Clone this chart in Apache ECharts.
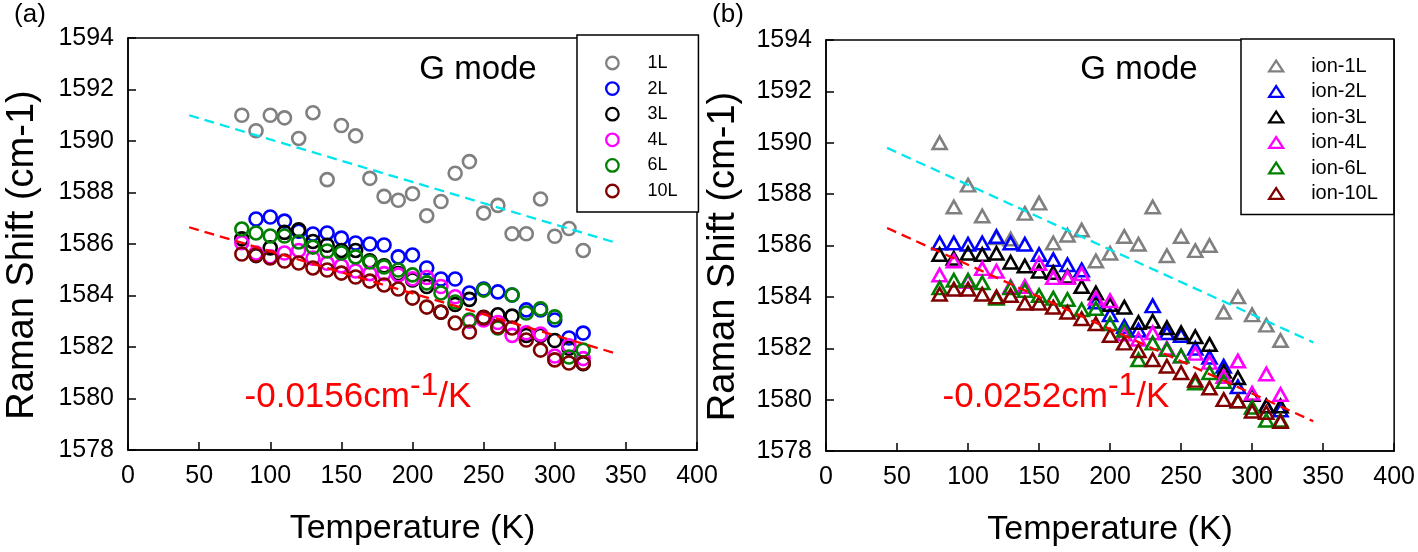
<!DOCTYPE html>
<html><head><meta charset="utf-8">
<script src="https://cdn.jsdelivr.net/npm/echarts@6/dist/echarts.min.js"></script>
<style>html,body{margin:0;padding:0;background:#fff}#c{width:1418px;height:552px}</style>
</head><body><div id="c"></div><script>
// ---------- data ----------
const temps = [80,90,100,110,120,130,140,150,160,170,180,190,200,210,220,230,240,250,260,270,280,290,300,310,320];
const xTicks = [0,50,100,150,200,250,300,350,400];
const yTicks = [1578,1580,1582,1584,1586,1588,1590,1592,1594];

// panel (a) : pristine layers
const namesA = ['1L','2L','3L','4L','6L','10L'];
const a1L  = [1591.0,1590.4,1591.0,1590.9,1590.1,1591.1,1588.5,1590.6,1590.2,1588.55,1587.85,1587.7,1587.95,1587.1,1587.65,1588.75,1589.2,1587.2,1587.5,1586.4,1586.4,1587.75,1586.3,1586.6,1585.75];
const a2L  = [null,1586.97,1587.05,1586.89,1586.5,1586.39,1586.43,1586.23,1586.04,1586.0,1585.96,1585.5,1585.57,1585.07,1584.64,1584.64,1584.1,1584.25,1584.14,1584.02,1583.44,1583.44,1583.05,1582.35,1582.54];
const a3L  = [1586.2,1585.55,1585.85,1586.45,1586.55,1586.1,1585.95,1585.75,1585.75,1585.35,1585.15,1584.85,1584.6,1584.35,1583.35,1583.65,1583.85,1583.15,1583.25,1583.2,1582.45,1582.45,1582.25,1581.95,1581.35];
const a4L  = [1586.05,1585.65,1585.5,1585.65,1585.75,1585.45,1585.25,1585.15,1584.95,1584.85,1584.85,1584.8,1584.65,1584.7,1584.35,1583.95,1583.0,1583.05,1582.95,1582.45,1582.55,1582.5,1581.65,1582.05,1581.55];
const a6L  = [1586.58,1586.43,1586.31,1586.31,1586.08,1585.88,1585.73,1585.65,1585.5,1585.3,1585.11,1584.99,1584.8,1584.49,1584.1,1583.75,1583.05,1584.21,1582.74,1584.02,1583.32,1583.48,1583.17,1581.61,1581.88];
const a10L = [1585.61,1585.57,1585.46,1585.34,1585.26,1585.07,1584.99,1584.87,1584.72,1584.56,1584.41,1584.25,1583.9,1583.55,1583.36,1582.93,1582.58,1583.13,1582.78,1582.74,1582.27,1581.88,1581.5,1581.38,1581.38];
const fitA1 = [[43,1591.0],[343,1586.05]];
const fitA2 = [[43,1586.65],[343,1581.75]];

// panel (b) : ion-irradiated layers
const namesB = ['ion-1L','ion-2L','ion-3L','ion-4L','ion-6L','ion-10L'];
const b1L  = [1590.0,1587.5,1588.35,1587.15,1586.3,1586.25,1587.25,1587.65,1586.1,1586.4,1586.6,1585.4,1585.7,1586.35,1586.05,1587.5,1585.6,1586.35,1585.8,1586.0,1583.4,1584.0,1583.3,1582.9,1582.3];
const b2L  = [1586.1,1586.1,1586.05,1586.1,1586.35,1586.1,1586.05,1585.65,1585.45,1585.25,1585.05,1583.8,1583.3,1582.85,1582.7,1583.65,1582.6,1582.5,1582.0,1581.65,1581.3,1580.5,1580.2,1579.75,1579.6];
const b3L  = [1585.65,1585.5,1585.7,1585.65,1585.7,1585.35,1585.2,1585.0,1584.95,1584.8,1584.4,1584.15,1583.7,1583.6,1583.0,1583.05,1582.8,1582.6,1582.45,1582.15,1581.1,1580.85,1580.2,1579.75,1579.75];
const b4L  = [1584.85,1585.4,1584.6,1585.1,1585.0,1584.4,1584.4,1585.3,1584.75,1584.75,1584.9,1583.95,1583.85,1582.55,1582.35,1582.6,1582.0,1581.7,1581.8,1581.45,1580.9,1581.5,1580.25,1581.0,1580.2];
const b6L  = [1584.35,1584.65,1584.65,1584.55,1583.95,1584.35,1584.25,1584.05,1583.95,1583.9,1583.5,1583.55,1582.95,1582.7,1581.55,1582.2,1581.95,1581.7,1580.65,1581.05,1580.7,1579.95,1579.7,1579.2,1579.2];
const b10L = [1584.1,1584.3,1584.3,1584.1,1584.0,1584.05,1583.75,1583.75,1583.6,1583.4,1583.15,1582.95,1582.5,1582.2,1581.9,1581.55,1581.3,1581.05,1580.75,1580.45,1580.0,1579.95,1579.55,1579.5,1579.15];
const fitB1 = [[43,1589.8],[343,1582.23]];
const fitB2 = [[43,1586.68],[343,1579.16]];

const colors = ['#808080','#0000ff','#000000','#ff00ff','#008000','#800000'];
const slopeA = '-0.0156';
const slopeB = '-0.0252';

// ---------- chart ----------
const FONT = '"Liberation Sans", Arial, Helvetica, sans-serif';
function pts(vals){ const out=[]; temps.forEach((t,i)=>{ if(vals[i]!=null) out.push([t, vals[i]]); }); return out; }
function scat(name, vals, color, gi, tri){
  return { name, type:'scatter', xAxisIndex:gi, yAxisIndex:gi, data: pts(vals),
    symbol: tri ? 'triangle' : 'circle', symbolSize: tri ? [14,12.5] : 13,
    itemStyle:{ color:'transparent', borderColor:color, borderWidth:2.6, opacity:1 },
    emphasis:{disabled:true}, silent:true };
}
function fit(data, color, gi){
  return { type:'line', xAxisIndex:gi, yAxisIndex:gi, data, symbol:'none', silent:true,
    lineStyle:{ color, width:2.3, type:[10,6] }, z:5 };
}
function xAx(gi){
  return { type:'value', gridIndex:gi, min:xTicks[0], max:xTicks[xTicks.length-1], interval:xTicks[1]-xTicks[0],
    name:'Temperature (K)', nameLocation:'middle', nameGap:62,
    nameTextStyle:{ fontFamily:FONT, fontSize:34, color:'#000' },
    axisLine:{ lineStyle:{ color:'#000', width:1.5 } },
    axisTick:{ inside:true, length:8, lineStyle:{ color:'#000', width:1.5 } },
    axisLabel:{ fontFamily:FONT, fontSize:25, color:'#000', margin:14, formatter:v=>String(v) },
    splitLine:{ show:false } };
}
function yAx(gi, gap){
  return { type:'value', gridIndex:gi, min:yTicks[0], max:yTicks[yTicks.length-1], interval:yTicks[1]-yTicks[0],
    name:'Raman Shift (cm-1)', nameLocation:'middle', nameGap:gap, nameRotate:90,
    nameTextStyle:{ fontFamily:FONT, fontSize:38, color:'#000', padding:[0,22,0,0] },
    axisLine:{ lineStyle:{ color:'#000', width:1.5 } },
    axisTick:{ inside:true, length:8, lineStyle:{ color:'#000', width:1.5 } },
    axisLabel:{ fontFamily:FONT, fontSize:25, color:'#000', margin:14, formatter:v=>String(v) },
    splitLine:{ show:false } };
}
const triPath = 'path://M0,10L6.5,0L13,10Z';
function legend(names, left, top, pad, fs, gap, tri, textPad){
  return { orient:'vertical', left, top, padding:pad, itemWidth:14, itemHeight: tri?11:12.5, itemGap:gap,
    borderColor:'#000', borderWidth:1.5, backgroundColor:'#fff', selectedMode:false,
    symbolKeepAspect:true,
    itemStyle:{ borderWidth:2.3 },
    textStyle:{ fontFamily:FONT, fontSize:fs, color:'#000', padding:[0,0,0,textPad] },
    data: names.map(n=>({ name:n, icon: tri ? triPath : 'circle' })) };
}
const rich = { m:{ fontFamily:FONT, fontSize:35, color:'#ff0000' }, s:{ fontFamily:FONT, fontSize:32, color:'#ff0000', padding:[0,0,22,0] } };
function slopeText(x, y, v){
  return { type:'text', x, y, silent:true, style:{ text:'{m|'+v+'cm}{s|-1}{m|/K}', rich, align:'center', verticalAlign:'middle', fill:'#ff0000' } };
}
function plain(x, y, t, fs){
  return { type:'text', x, y, silent:true, style:{ text:t, font: fs+'px '+FONT, fill:'#000', align:'center', verticalAlign:'middle' } };
}

const chart = echarts.init(document.getElementById('c'), null, { renderer:'canvas' });
const series = [];
[a1L,a2L,a3L,a4L,a6L,a10L].forEach((v,i)=>series.push(scat(namesA[i], v, colors[i], 0, false)));
[b1L,b2L,b3L,b4L,b6L,b10L].forEach((v,i)=>series.push(scat(namesB[i], v, colors[i], 1, true)));
series.push(fit(fitA1,'#00e5ee',0), fit(fitA2,'#ff0000',0), fit(fitB1,'#00e5ee',1), fit(fitB2,'#ff0000',1));

chart.setOption({
  animation:false,
  backgroundColor:'#fff',
  grid:[
    { left:128, top:38, width:569, height:412, show:true, borderColor:'#000', borderWidth:1.5, backgroundColor:'transparent' },
    { left:826, top:40, width:569, height:411.5, show:true, borderColor:'#000', borderWidth:1.5, backgroundColor:'transparent' }
  ],
  xAxis:[ xAx(0), xAx(1) ],
  yAxis:[ yAx(0, 86), yAx(1, 83) ],
  legend:[
    legend(namesA, 577, 35, [19,21,12,28], 18, 7.6, false, 23),
    legend(namesB, 1241, 39, [17,16,11,27], 20, 5.5, true, 23)
  ],
  graphic:[
    plain(30, 15, '(a)', 26),
    plain(728, 15, '(b)', 26),
    plain(478, 70, 'G mode', 33),
    plain(1139, 70, 'G mode', 33),
    slopeText(358, 397, slopeA),
    slopeText(1056, 397, slopeB)
  ],
  series
});
</script></body></html>
